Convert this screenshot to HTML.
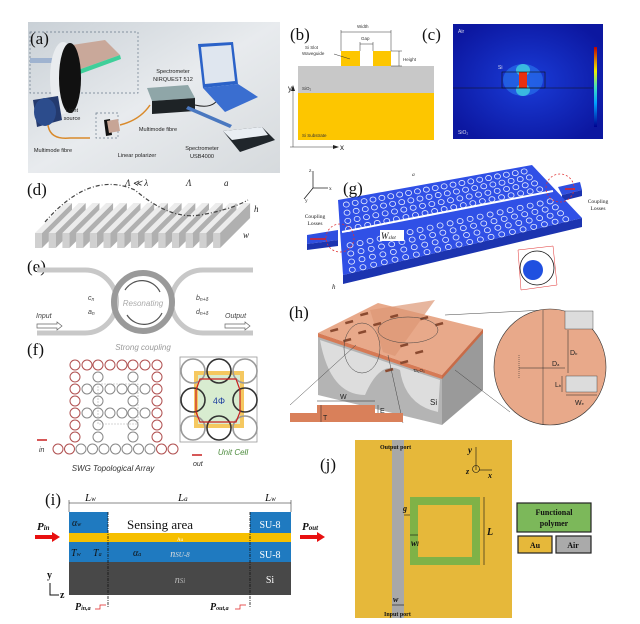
<!DOCTYPE html>
<html><head><meta charset="utf-8"><style>
html,body{margin:0;padding:0;background:#fff;}
svg{display:block;font-family:"Liberation Sans",sans-serif;}
.serif{font-family:"Liberation Serif",serif;}
</style></head><body>
<svg id="s" width="640" height="624" viewBox="0 0 640 624" xmlns="http://www.w3.org/2000/svg">
<defs>
<linearGradient id="ga" x1="0" y1="0" x2="1" y2="1"><stop offset="0" stop-color="#c9d0d6"/><stop offset="0.5" stop-color="#e8ebee"/><stop offset="1" stop-color="#d6dadd"/></linearGradient>
<radialGradient id="gc" cx="0.5" cy="0.5" r="0.6"><stop offset="0" stop-color="#1a3cd8"/><stop offset="1" stop-color="#0c17a0"/></radialGradient>
<linearGradient id="cb" x1="0" y1="1" x2="0" y2="0"><stop offset="0" stop-color="#000090"/><stop offset="0.3" stop-color="#00a0ff"/><stop offset="0.5" stop-color="#40e0c0"/><stop offset="0.7" stop-color="#f0f000"/><stop offset="1" stop-color="#c00000"/></linearGradient>
</defs>
<!-- (a) -->
<rect x="28" y="22" width="252" height="151" fill="url(#ga)"/>
<rect x="30" y="32" width="108" height="61" fill="none" stroke="#6a7a8a" stroke-width="0.7" stroke-dasharray="2,2"/>
<rect x="96" y="113" width="22" height="25" fill="none" stroke="#6a7a8a" stroke-width="0.7" stroke-dasharray="2,2"/>
<rect x="30" y="58" width="25" height="5" fill="#9fb3d0"/>
<polygon points="72,45 105,40 120,55 78,70" fill="#c9a89a"/>
<polygon points="78,70 120,55 121,59 80,74" fill="#3fcf9a"/>
<ellipse cx="63" cy="78" rx="13" ry="36" fill="#e9ecef"/>
<ellipse cx="70" cy="78" rx="11" ry="35" fill="#111"/>
<polygon points="33,100 58,96 62,120 37,127" fill="#243a6e"/>
<ellipse cx="45" cy="112" rx="11" ry="14" fill="#2c4c8c"/>
<path d="M48,125 Q50,140 70,138 L90,138" stroke="#d98a2b" stroke-width="1.5" fill="none"/>
<path d="M120,125 Q140,120 150,105" stroke="#d98a2b" stroke-width="1.5" fill="none"/>
<polygon points="147,88 188,85 195,98 152,101" fill="#8fa6a8"/>
<polygon points="152,101 195,98 195,111 152,114" fill="#1e2326"/>
<path d="M195,105 Q215,110 220,95 L225,105" stroke="#222" stroke-width="1" fill="none"/>
<polygon points="198,44 233,42 238,84 203,88" fill="#2b62c8"/>
<polygon points="201,47 231,45 235,81 205,84" fill="#dfe6ef"/>
<polygon points="203,88 238,84 258,97 225,112" fill="#3a6ed0"/>
<polygon points="188,106 232,125 230,128 186,109" fill="#4a78c0"/>
<polygon points="223,131 262,127 275,140 240,152" fill="#20262b"/>
<polygon points="223,131 262,127 268,135 232,140" fill="#e9eef3"/>
<polygon points="104,120 110,119 112,135 106,136" fill="#111"/>
<polygon points="107,121 118,119 120,131 109,133" fill="#c7a596"/>
<text x="30" y="44" class="serif" font-size="17" fill="#111">(a)</text>
<g font-size="5.6" fill="#222" text-anchor="middle">
<text x="173" y="73">Spectrometer</text><text x="173" y="81">NIRQUEST 512</text>
<text x="72" y="112">Light</text><text x="72" y="120">source</text>
<text x="158" y="131">Multimode fibre</text>
<text x="53" y="152">Multimode fibre</text>
<text x="137" y="157">Linear polarizer</text>
<text x="202" y="150">Spectrometer</text><text x="202" y="158">USB4000</text>
</g>
<!-- (b) -->
<text x="290" y="40" class="serif" font-size="17" fill="#111">(b)</text>
<rect x="298" y="66" width="136" height="27" fill="#c8c8c8"/>
<rect x="298" y="93" width="136" height="47" fill="#fdc600"/>
<rect x="341" y="51" width="19" height="15" fill="#fdc600"/>
<rect x="373" y="51" width="18" height="15" fill="#fdc600"/>
<g stroke="#333" stroke-width="0.5" fill="none">
<line x1="341" y1="30" x2="341" y2="51"/><line x1="391" y1="30" x2="391" y2="51"/><line x1="341" y1="32" x2="391" y2="32"/>
<line x1="360" y1="42" x2="360" y2="51"/><line x1="373" y1="42" x2="373" y2="51"/><line x1="360" y1="44" x2="373" y2="44"/>
<line x1="391" y1="51" x2="402" y2="51"/><line x1="391" y1="66" x2="402" y2="66"/><line x1="399" y1="51" x2="399" y2="66"/>
<line x1="334" y1="54" x2="350" y2="59"/>
<line x1="293" y1="147" x2="293" y2="88"/><line x1="290" y1="147" x2="336" y2="147"/>
</g>
<g font-size="4.5" fill="#333"><text x="357" y="28">Width</text><text x="361" y="40">Gap</text><text x="403" y="61">Height</text>
<text x="305" y="49">Si Slot</text><text x="302" y="55">Waveguide</text><text x="302" y="90">SiO₂</text><text x="302" y="137">Si Substrate</text></g>
<polygon points="293,85 291,91 295,91" fill="#222"/><polygon points="339,147 333,145 333,149" fill="#222"/>
<text x="288" y="91" font-size="8" fill="#222">y</text><text x="340" y="150" font-size="8" fill="#222">x</text>
<!-- (c) -->
<text x="422" y="40" class="serif" font-size="17" fill="#111">(c)</text>
<rect x="453" y="24" width="150" height="115" fill="url(#gc)"/>
<ellipse cx="523" cy="80" rx="20" ry="16" fill="#2a7af0" opacity="0.6"/>
<ellipse cx="523" cy="70" rx="7" ry="6" fill="#40d0e0" opacity="0.8"/>
<ellipse cx="523" cy="90" rx="7" ry="6" fill="#40d0e0" opacity="0.8"/>
<rect x="519" y="72" width="8" height="16" fill="#e83010"/>
<rect x="502" y="72" width="43" height="16" fill="none" stroke="#111" stroke-width="0.6"/>
<line x1="453" y1="88" x2="593" y2="88" stroke="#111" stroke-width="0.6"/>
<rect x="594" y="47" width="3" height="80" fill="url(#cb)"/>
<g font-size="5" fill="#dde"><text x="458" y="33">Air</text><text x="458" y="134">SiO₂</text><text x="498" y="69">Si</text></g>
<!-- (d) -->
<text x="27" y="195" class="serif" font-size="17" fill="#111">(d)</text>
<g id="fins"></g>
<path d="M45,222 Q90,170 135,190 Q170,220 200,215 Q230,210 248,200" stroke="#444" stroke-width="1.2" stroke-dasharray="4,2,1,2" fill="none"/>
<g class="serif" font-size="9" font-style="italic" fill="#222"><text x="125" y="186">Λ ≪ λ</text><text x="186" y="186">Λ</text><text x="224" y="186">a</text><text x="254" y="212">h</text><text x="243" y="238">w</text></g>
<!-- (e) -->
<text x="27" y="272" class="serif" font-size="17" fill="#111">(e)</text>
<g fill="none" stroke="#c8c8c8" stroke-width="5">
<path d="M37,270 L85,270 A31,31 0 0 1 85,333 L37,333"/>
<path d="M253,270 L203,270 A31,31 0 0 0 203,333 L253,333"/>
</g>
<circle cx="143" cy="302" r="29" fill="none" stroke="#9a9a9a" stroke-width="6"/>
<path d="M125,290 A20,20 0 0 1 160,292" stroke="#555" stroke-width="1.2" fill="none"/>
<path d="M162,313 A20,20 0 0 1 127,315" stroke="#555" stroke-width="1.2" fill="none"/>
<g font-size="7" font-style="italic" fill="#444"><text x="88" y="300">c<tspan font-size="5" dy="1">n</tspan></text><text x="88" y="314">a<tspan font-size="5" dy="1">n</tspan></text>
<text x="196" y="300">b<tspan font-size="5" dy="1">n+δ</tspan></text><text x="196" y="314">d<tspan font-size="5" dy="1">n+δ</tspan></text>
<text x="36" y="318">Input</text><text x="225" y="318">Output</text></g>
<text x="143" y="306" font-size="8" font-style="italic" fill="#aaa" text-anchor="middle">Resonating</text>
<text x="143" y="350" font-size="8" font-style="italic" fill="#999" text-anchor="middle">Strong coupling</text>
<g fill="none" stroke="#666" stroke-width="0.7"><path d="M37,324 h20 v-2 l5,4 l-5,4 v-2 h-20z"/><path d="M225,324 h20 v-2 l5,4 l-5,4 v-2 h-20z"/></g>
<!-- (f) -->
<text x="27" y="355" class="serif" font-size="17" fill="#111">(f)</text>
<g id="fgrid"></g>
<rect x="180" y="357" width="77" height="85" fill="none" stroke="#999" stroke-width="0.8"/>
<rect x="194" y="371" width="50" height="57" fill="#f5c860"/>
<polygon points="198,375 240,375 240,424 198,424" fill="#d8ecd0"/>
<g id="ugrid"></g>
<path d="M200,379 L236,379 L240,390 L240,412 L236,422 L200,422 L196,412 L196,390 Z" fill="none" stroke="#c82020" stroke-width="1.2"/>
<text x="219" y="404" font-size="9" fill="#2040a0" text-anchor="middle">4Φ</text>
<rect x="98" y="384" width="40" height="40" fill="none" stroke="#aaa" stroke-width="0.6" stroke-dasharray="2,1"/>
<text x="233" y="455" font-size="8" font-style="italic" fill="#4a8a3a" text-anchor="middle">Unit Cell</text>
<text x="113" y="471" font-size="8" font-style="italic" fill="#333" text-anchor="middle">SWG Topological Array</text>
<text x="39" y="452" font-size="7" font-style="italic" fill="#333">in</text><text x="193" y="466" font-size="7" font-style="italic" fill="#333">out</text>
<path d="M37,440 h10" stroke="#c82020" stroke-width="1.5"/><path d="M192,455 h10" stroke="#c82020" stroke-width="1.5"/>
<!-- (g) -->
<polygon points="307,235 338,230 338,240 307,244" fill="#2f4fe0"/>
<polygon points="307,244 338,240 338,246 307,250" fill="#1c34b0"/>
<polygon points="558,187 580,182 582,190 562,195" fill="#2f4fe0"/>
<polygon points="562,195 582,190 582,196 562,201" fill="#1c34b0"/>
<polygon points="343,275 582,218 582,227 343,284" fill="#1c34b0"/>
<polygon points="338,200 532,165 582,218 343,275" fill="#3050e6"/>
<g id="holes"></g>
<line x1="342" y1="232" x2="553" y2="191" stroke="#fff" stroke-width="2"/>
<path d="M310,239 h16" stroke="#e02020" stroke-width="1.5"/><path d="M565,189 h10" stroke="#e02020" stroke-width="1.5"/>
<circle cx="340" cy="238" r="14" fill="none" stroke="#e03030" stroke-width="0.8" stroke-dasharray="2,2"/>
<circle cx="560" cy="188" r="14" fill="none" stroke="#e03030" stroke-width="0.8" stroke-dasharray="2,2"/>
<polygon points="518,250 553,246 557,285 521,290" fill="none" stroke="#e03030" stroke-width="0.5"/>
<circle cx="537" cy="268" r="17" fill="#fff" stroke="#111" stroke-width="0.8"/>
<circle cx="533" cy="270" r="10" fill="#2050e0"/>
<rect x="380" y="230" width="24" height="11" fill="#fff"/>
<text x="381" y="239" class="serif" font-size="9" font-style="italic" fill="#111">W<tspan font-size="5">slot</tspan></text>
<text x="343" y="194" class="serif" font-size="17" fill="#111">(g)</text>
<g stroke="#111" stroke-width="0.7"><line x1="313" y1="188" x2="313" y2="171"/><line x1="313" y1="188" x2="328" y2="188"/><line x1="313" y1="188" x2="304" y2="199"/></g>
<g class="serif" font-size="5.5" fill="#222"><text x="309" y="172">z</text><text x="329" y="190">x</text><text x="305" y="202">y</text>
<text x="315" y="218" text-anchor="middle">Coupling</text><text x="315" y="225" text-anchor="middle">Losses</text>
<text x="598" y="203" text-anchor="middle">Coupling</text><text x="598" y="210" text-anchor="middle">Losses</text>
<text x="332" y="289" font-style="italic" font-size="7">h</text><text x="412" y="176" font-style="italic">a</text></g>
<!-- (h) -->
<text x="289" y="318" class="serif" font-size="17" fill="#111">(h)</text>
<polygon points="318,335 442,378 442,425 318,395" fill="#b4b4b4"/>
<polygon points="442,378 483,332 483,390 442,425" fill="#9a9a9a"/>
<path d="M320,340 Q330,395 365,395 Q380,360 400,370 Q405,405 438,412 L440,380 Z" fill="#ddd"/>
<polygon points="318,333 378,303 483,329 442,375" fill="#e8a98a"/>
<polygon points="318,333 442,375 442,379 318,337" fill="#d67a55"/>
<polygon points="442,375 483,329 483,333 442,379" fill="#c86c48"/>
<polygon points="370,310 435,300 395,356 383,352" fill="#dd9775" opacity="0.7"/>
<g id="slots"></g>
<g fill="none" stroke="#444" stroke-width="0.5">
<ellipse cx="362" cy="348" rx="18" ry="25"/><ellipse cx="408" cy="330" rx="30" ry="13"/>
<line x1="290" y1="405" x2="356" y2="345"/><line x1="403" y1="423" x2="388" y2="355"/>
<line x1="445" y1="315" x2="545" y2="310"/><line x1="455" y1="370" x2="510" y2="412"/>
</g>
<polygon points="290,413 317,413 317,405 375,405 375,413 403,413 403,422 290,422" fill="#d9805a"/>
<g stroke="#222" stroke-width="0.5"><line x1="317" y1="401" x2="375" y2="401"/><line x1="321" y1="405" x2="321" y2="422"/><line x1="378" y1="405" x2="378" y2="413"/></g>
<g font-size="7" fill="#222"><text x="340" y="399">W</text><text x="323" y="420">T</text><text x="380" y="413">E</text><text x="430" y="405" font-size="8">Si</text><text x="413" y="372" font-size="4.5">Ta₂O₅</text></g>
<ellipse cx="550" cy="367" rx="56" ry="58" fill="#e8a98a" stroke="#333" stroke-width="0.6"/>
<line x1="543" y1="310" x2="543" y2="425" stroke="#333" stroke-width="0.5"/>
<rect x="565" y="311" width="28" height="18" fill="#dcdcdc" stroke="#333" stroke-width="0.4"/>
<rect x="566" y="376" width="31" height="16" fill="#dcdcdc" stroke="#333" stroke-width="0.4"/>
<g stroke="#222" stroke-width="0.5"><line x1="519" y1="368" x2="565" y2="368"/><line x1="568" y1="330" x2="568" y2="373"/><line x1="562" y1="376" x2="562" y2="392"/><line x1="566" y1="395" x2="597" y2="395"/></g>
<line x1="519" y1="355" x2="519" y2="378" stroke="#222" stroke-width="0.5" stroke-dasharray="1,1"/>
<g font-size="7" fill="#222"><text x="552" y="366">D<tspan font-size="4">a</tspan></text><text x="570" y="355">D<tspan font-size="4">b</tspan></text><text x="555" y="387">L<tspan font-size="4">b</tspan></text><text x="575" y="405">W<tspan font-size="4">e</tspan></text></g>
<!-- (i) -->
<text x="45" y="505" class="serif" font-size="17" fill="#111">(i)</text>
<rect x="69" y="512" width="39" height="21" fill="#1f7ac0"/>
<rect x="250" y="512" width="41" height="21" fill="#1f7ac0"/>
<rect x="69" y="533" width="222" height="9" fill="#f6bf00"/>
<rect x="69" y="542" width="222" height="20" fill="#1f7ac0"/>
<rect x="69" y="562" width="222" height="33" fill="#484848"/>
<g stroke="#111" stroke-width="0.8" stroke-dasharray="3,1,1,1"><line x1="108" y1="512" x2="108" y2="607"/><line x1="250" y1="512" x2="250" y2="607"/></g>
<g stroke="#111" stroke-width="0.5"><line x1="69" y1="503" x2="291" y2="503"/><line x1="69" y1="500" x2="69" y2="512"/><line x1="291" y1="500" x2="291" y2="512"/></g>
<g class="serif" fill="#fff" font-size="10">
<text x="160" y="529" fill="#111" font-size="13" text-anchor="middle">Sensing area</text>
<text x="270" y="528" text-anchor="middle">SU-8</text><text x="270" y="558" text-anchor="middle">SU-8</text><text x="270" y="583" text-anchor="middle">Si</text>
<text x="180" y="541" font-size="5" text-anchor="middle">Au</text>
<text x="180" y="557" font-style="italic" text-anchor="middle" fill="#ddd">n<tspan font-size="7">SU-8</tspan></text>
<text x="180" y="583" font-style="italic" text-anchor="middle" fill="#bbb">n<tspan font-size="7">Si</tspan></text>
<text x="72" y="526" font-style="italic" fill="#111">α<tspan font-size="6">w</tspan></text>
<text x="71" y="556" font-style="italic" fill="#111">T<tspan font-size="6">w</tspan></text><text x="93" y="556" font-style="italic" fill="#111">T<tspan font-size="6">a</tspan></text>
<text x="133" y="556" font-style="italic" fill="#111">α<tspan font-size="6">a</tspan></text>
</g>
<g class="serif" font-style="italic" fill="#111">
<text x="85" y="501" font-size="11">L<tspan font-size="7">w</tspan></text><text x="178" y="501" font-size="11">L<tspan font-size="7">a</tspan></text><text x="265" y="501" font-size="11">L<tspan font-size="7">w</tspan></text>
<text x="37" y="530" font-size="11" font-weight="bold">P<tspan font-size="7">in</tspan></text><text x="302" y="530" font-size="11" font-weight="bold">P<tspan font-size="7">out</tspan></text>
<text x="75" y="610" font-size="10" font-weight="bold">P<tspan font-size="6">in,a</tspan></text><text x="210" y="610" font-size="10" font-weight="bold">P<tspan font-size="6">out,a</tspan></text>
<text x="47" y="578" font-size="10" font-style="normal" font-weight="bold">y</text><text x="60" y="598" font-size="10" font-style="normal" font-weight="bold">z</text>
</g>
<polygon points="35,535 52,535 52,532 60,537 52,542 52,539 35,539" fill="#e81010"/>
<polygon points="300,535 317,535 317,532 325,537 317,542 317,539 300,539" fill="#e81010"/>
<path d="M50,583 v12 h9" stroke="#111" stroke-width="1" fill="none"/>
<g stroke="#e02020" stroke-width="0.7" fill="none"><path d="M95,609 h5 v-4 h6"/><path d="M235,609 h5 v-4 h6"/></g>
<!-- (j) -->
<text x="320" y="470" class="serif" font-size="17" fill="#111">(j)</text>
<rect x="355" y="440" width="157" height="178" fill="#e6b83a"/>
<rect x="392" y="440" width="12" height="178" fill="#a8a8a8"/>
<rect x="410" y="497" width="70" height="68" fill="#6cb04a" opacity="0.85"/>
<rect x="418" y="505" width="54" height="52" fill="#e6b83a"/>
<g stroke="#111" stroke-width="0.6"><line x1="484" y1="497" x2="484" y2="565"/><line x1="476" y1="447" x2="476" y2="470"/><line x1="479" y1="470" x2="492" y2="470"/><line x1="404" y1="515" x2="410" y2="515"/><line x1="410" y1="535" x2="418" y2="535"/><line x1="392" y1="605" x2="404" y2="605"/></g>
<circle cx="476" cy="469" r="3.5" fill="none" stroke="#111" stroke-width="0.6"/>
<g class="serif" fill="#111"><text x="380" y="449" font-size="6" font-weight="bold">Output port</text><text x="384" y="616" font-size="6" font-weight="bold">Input port</text>
<text x="468" y="453" font-size="9" font-style="italic" font-weight="bold">y</text><text x="466" y="474" font-size="8" font-style="italic" font-weight="bold">z</text><text x="488" y="478" font-size="8" font-style="italic" font-weight="bold">x</text>
<text x="487" y="535" font-size="10" font-style="italic" font-weight="bold">L</text><text x="403" y="511" font-size="8" font-style="italic" font-weight="bold">g</text>
<text x="411" y="546" font-size="9" font-style="italic" font-weight="bold">w<tspan font-size="6">l</tspan></text><text x="393" y="602" font-size="8" font-style="italic" font-weight="bold">w</text></g>
<rect x="517" y="503" width="74" height="29" fill="#7cb85a" stroke="#222" stroke-width="1.2"/>
<rect x="518" y="536" width="34" height="17" fill="#e6b83a" stroke="#222" stroke-width="1.2"/>
<rect x="556" y="536" width="35" height="17" fill="#aaa" stroke="#222" stroke-width="1.2"/>
<g class="serif" font-size="8" font-weight="bold" fill="#111" text-anchor="middle"><text x="554" y="515">Functional</text><text x="554" y="526">polymer</text><text x="535" y="548">Au</text><text x="573" y="548">Air</text></g>
</svg>
<script>
var NS="http://www.w3.org/2000/svg";
function el(p,t,a){var e=document.createElementNS(NS,t);for(var k in a)e.setAttribute(k,a[k]);document.getElementById(p).appendChild(e);}
for(var i=0;i<14;i++){var x=35+i*13.7;
el("fins","polygon",{points:(x+7)+",233 "+(x+37)+",203 "+(x+37)+",218 "+(x+7)+",248",fill:"#b0b0b0"});
el("fins","polygon",{points:x+",233 "+(x+7)+",233 "+(x+37)+",203 "+(x+30)+",203",fill:"#ececec"});
el("fins","rect",{x:x,y:233,width:7,height:15,fill:"#d0d0d0"});}
var cols=[75,87,98,110,122,133,145,157],rows=[365,377,389,401,413,425,437];
for(var r=0;r<rows.length;r++)for(var c=0;c<cols.length;c++){var edge=(r==0||c==0||c==7);
var inner=(r==2||r==4)?(c>=1&&c<=6):(c==2||c==5);
if(!edge&&!inner)continue;
el("fgrid","circle",{cx:cols[c],cy:rows[r],r:5,fill:"none",stroke:edge?"#b05050":"#888","stroke-width":1});}
for(var c=0;c<11;c++){var x=58+c*11.5;el("fgrid","circle",{cx:x,cy:449,r:5,fill:"none",stroke:(c<2||c>8)?"#b05050":"#888","stroke-width":1});}
var ux=[193,219,245],uy=[371,400,428];
for(var r=0;r<3;r++)for(var c=0;c<3;c++){if(r==1&&c==1)continue;el("ugrid","circle",{cx:ux[c],cy:uy[r],r:12,fill:"none",stroke:(r+c)%2?"#333":"#999","stroke-width":1.6});}
function P(u,v){var A=[338,200],B=[532,165],C=[582,218],D=[343,275];
return[(1-u)*(1-v)*A[0]+u*(1-v)*B[0]+u*v*C[0]+(1-u)*v*D[0],(1-u)*(1-v)*A[1]+u*(1-v)*B[1]+u*v*C[1]+(1-u)*v*D[1]];}
for(var r=0;r<9;r++){if(r==4)continue;for(var c=0;c<21;c++){var p=P(0.04+c*0.045,0.08+r*0.11);el("holes","ellipse",{cx:p[0],cy:p[1],rx:3,ry:2.6,fill:"none",stroke:"#e8eeff","stroke-width":0.8});}}
var sl=[[330,330],[345,322],[360,314],[343,340],[358,332],[373,324],[390,316],[420,318],[435,324],[400,345],[415,352],[385,370],[400,362]];
sl.forEach(function(s){el("slots","rect",{x:s[0],y:s[1],width:8,height:2.5,fill:"#8a4a30",transform:"rotate(-15 "+s[0]+" "+s[1]+")"});});
</script>
</body></html>
